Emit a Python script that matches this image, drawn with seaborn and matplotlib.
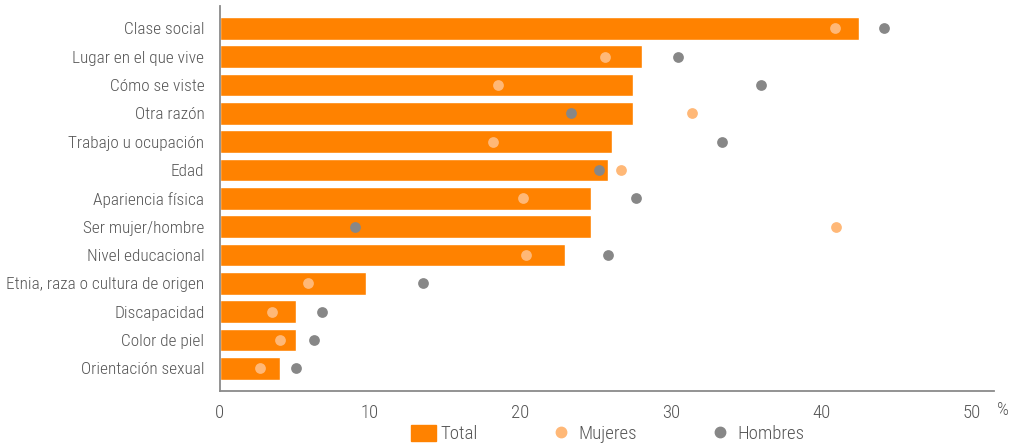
import matplotlib
matplotlib.use("Agg")
import matplotlib.pyplot as plt
from matplotlib.patches import Patch
from matplotlib.lines import Line2D
import seaborn as sns

categorias = ["Clase social", "Lugar en el que vive", "Cómo se viste", "Otra razón",
              "Trabajo u ocupación", "Edad", "Apariencia física", "Ser mujer/hombre",
              "Nivel educacional", "Etnia, raza o cultura de origen", "Discapacidad",
              "Color de piel", "Orientación sexual"]
total = [42.5, 28.1, 27.5, 27.5, 26.1, 25.8, 24.7, 24.7, 23.0, 9.7, 5.1, 5.1, 4.0]
mujeres = [40.9, 25.6, 18.5, 31.4, 18.2, 26.7, 20.2, 41.0, 20.4, 5.9, 3.5, 4.0, 2.7]
hombres = [44.2, 30.5, 36.0, 23.4, 33.4, 25.2, 27.7, 9.0, 25.8, 13.5, 6.8, 6.3, 5.1]

naranja = "#ff8200"
c_muj = "#ffb877"
c_hom = "#878787"
gris_txt = "#555555"
gris_eje = "#8a8a8a"

sns.set_style("white")
plt.rcParams['font.family'] = ['Roboto Condensed', 'DejaVu Sans']
plt.rcParams['font.weight'] = 'light'

fig = plt.figure(figsize=(10.18, 4.48), dpi=100)
ax = fig.add_axes([0.2158, 0.1272, 0.7606, 0.8594])

sns.barplot(x=total, y=categorias, color=naranja, saturation=1, width=0.8, ax=ax)
ax.scatter(mujeres, range(len(categorias)), s=60, color=c_muj, zorder=3, linewidths=0)
ax.scatter(hombres, range(len(categorias)), s=60, color=c_hom, zorder=3, linewidths=0)

ax.set_xlim(0, 51.5)
ax.set_ylim(12.8, -0.79)
ax.set_xticks([0, 10, 20, 30, 40, 50])
ax.set_xlabel("")
ax.set_ylabel("")
for s in ["top", "right"]:
    ax.spines[s].set_visible(False)
for s in ["left", "bottom"]:
    ax.spines[s].set_color(gris_eje)
    ax.spines[s].set_linewidth(1.3)
ax.tick_params(axis="y", length=0, pad=11, labelsize=12.4, labelcolor=gris_txt)
ax.tick_params(axis="x", direction="in", length=7, width=1, color=gris_eje,
               pad=9, labelsize=13.5, labelcolor=gris_txt)

fig.text(1003 / 1018, 1 - 410 / 448, "%", ha="center", va="center", fontsize=13.5, color=gris_txt)

handles = [Patch(color=naranja, label="Total"),
           Line2D([], [], marker="o", ls="", markersize=7.5, color=c_muj, label="Mujeres"),
           Line2D([], [], marker="o", ls="", markersize=7.5, color=c_hom, label="Hombres")]
leg = fig.legend(handles=handles, loc="center", bbox_to_anchor=(0.597, 1 - 434 / 448),
                 ncol=3, frameon=False, fontsize=13.5, handlelength=1.3, handleheight=1.0,
                 handletextpad=0.25, columnspacing=3.8, borderpad=0)
for t in leg.get_texts():
    t.set_color(gris_txt)

fig.savefig("out.png", dpi=100)
